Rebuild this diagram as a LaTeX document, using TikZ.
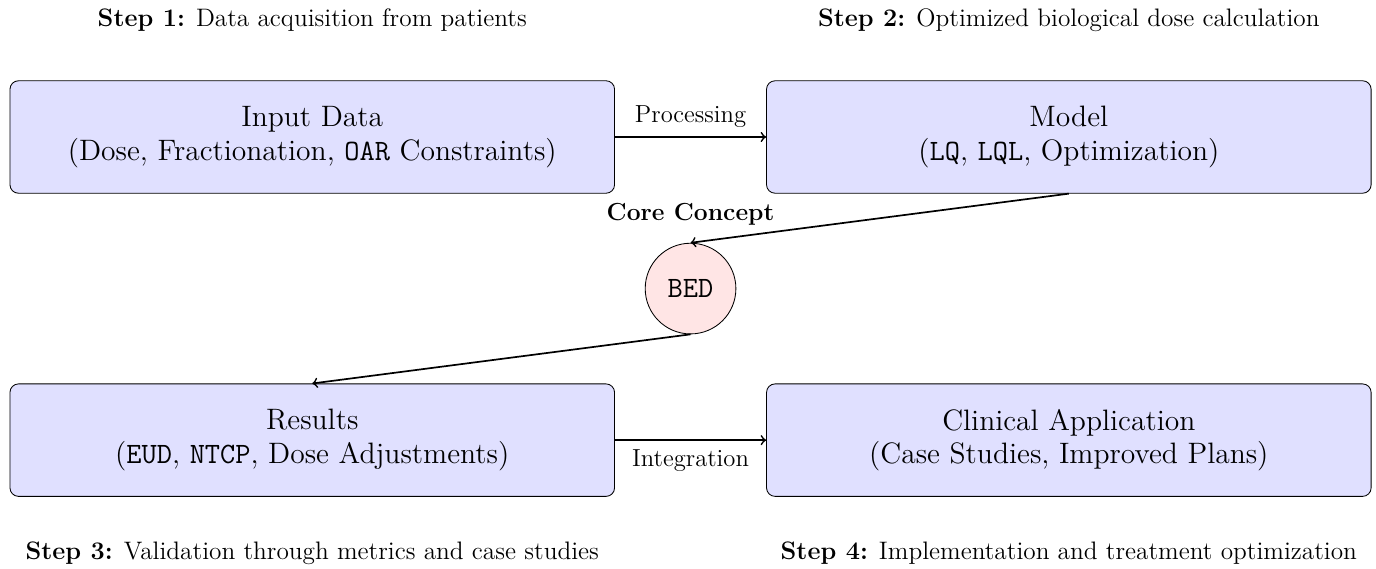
\documentclass[tikz,border=0pt,12pt]{standalone}
\usetikzlibrary{positioning,calc}

\begin{document}
\begin{tikzpicture}[box/.style={draw, rectangle, rounded corners, fill=blue!12, minimum width=10cm, minimum height=1.86cm, align=center, font=\fontsize{13.9}{15.8}\selectfont}, bedcircle/.style={draw, circle, fill=red!10, minimum size=1.5cm, font=\fontsize{13.9}{15.8}\selectfont}, steptext/.style={font=\fontsize{11.9}{14}\selectfont}, arrow/.style={thick,->}, font=\fontsize{11.6}{14}\selectfont]
\useasboundingbox (0,0) rectangle (22.76,-9.41);
\node[box] (input) at (5.165,-2.266) {Input Data\\(Dose, Fractionation, \texttt{OAR} Constraints)};
\node[box, right=2.5cm of input] (model) {Model\\(\texttt{LQ}, \texttt{LQL}, Optimization)};
\node[box, below=3.14cm of input] (results) {Results\\(\texttt{EUD}, \texttt{NTCP}, Dose Adjustments)};
\node[box, right=2.5cm of results] (clinical) {Clinical Application\\(Case Studies, Improved Plans)};
\node[bedcircle] (bed) at ($(input)!0.5!(clinical)$) {\texttt{BED}};
\node[above=0.15cm of bed] (core) {\textbf{Core Concept}};
% step captions
\node[steptext, above=0.66cm of input] (step1) {\textbf{Step 1:} Data acquisition from patients};
\node[steptext, above=0.66cm of model] (step2) {\textbf{Step 2:} Optimized biological dose calculation};
\node[steptext, below=0.6cm of results] (step3) {\textbf{Step 3:} Validation through metrics and case studies};
\node[steptext, below=0.6cm of clinical] (step4) {\textbf{Step 4:} Implementation and treatment optimization};
% arrows
\draw[arrow] (input) -- node[above] {Processing} (model);
\draw[arrow] (model.south) -- (bed.north);
\draw[arrow] (bed.south) -- (results.north);
\draw[arrow] (results) -- node[below] {Integration} (clinical);
\end{tikzpicture}
\end{document}
